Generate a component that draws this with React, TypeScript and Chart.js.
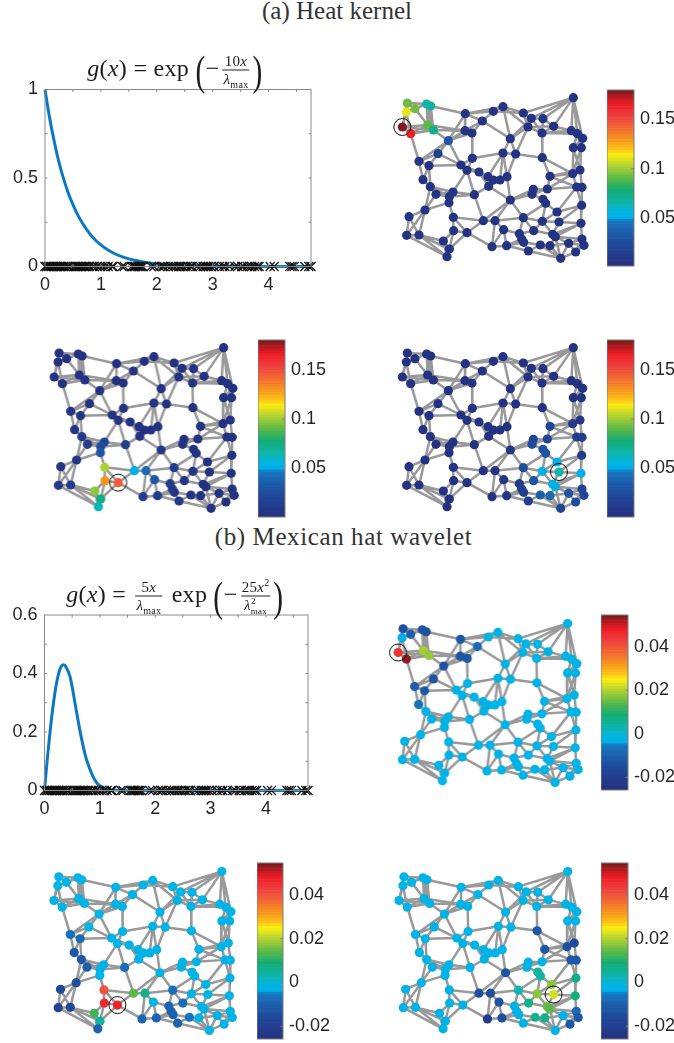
import React, { useEffect, useRef } from "react";
import { Chart, registerables } from "chart.js";

Chart.register(...registerables);

const SANS = "'Liberation Sans', Arial, sans-serif";
const SERIF = "'Liberation Serif', serif";
const MATH = "'Liberation Serif', serif";

// Graph vertices
const nodeX = [82,79,105,140,152,67,92,143,160,256,340,369,307,255,276,205,430,454,489,444,521,486,580,574,592,608,391,580,604,174,117,147,277,243,261,297,369,407,487,129,151,324,340,360,381,326,510,578,600,590,606,168,219,208,207,283,391,460,456,502,489,497,605,531,135,87,220,310,345,430,487,537,603,221,261,371,418,461,518,80,117,190,606,425,431,336,380,481,510,566,612,208,445,587,201,542,526];
const nodeY = [69,96,86,72,78,141,161,135,150,101,94,80,123,152,159,182,99,115,116,141,139,159,53,152,161,175,176,203,203,221,244,257,235,255,271,276,219,222,233,299,320,290,300,300,290,319,289,281,270,321,322,343,336,350,368,344,360,328,343,327,358,370,376,396,390,410,412,422,422,413,424,426,430,452,458,449,461,452,463,466,465,483,477,477,487,500,497,495,497,490,496,507,513,516,530,535,470];

// Graph edges (vertex index pairs)
const edgePairs = [
[0,1],[0,2],[0,3],[0,5],[1,2],[1,5],[1,6],[2,3],[2,7],[3,4],[3,7],[4,7],[4,8],[5,6],[5,7],[5,8],[6,7],[6,8],[7,8],[3,8],[4,9],[7,13],[8,13],[8,15],[6,30],
[9,10],[9,11],[10,11],[9,12],[9,13],[9,15],[10,12],[11,16],[11,26],[10,16],[12,13],[12,15],[12,26],[13,14],[13,15],[14,15],[14,32],[15,29],[15,33],[15,31],[29,30],[29,33],[29,31],[30,31],[15,30],[12,14],
[16,17],[16,19],[11,19],[17,18],[17,19],[17,21],[18,20],[18,21],[19,20],[19,21],[20,21],[20,23],[21,23],[17,22],[18,22],[16,22],[20,22],[22,23],[22,24],[22,25],[23,24],[24,25],[21,24],[19,26],[26,37],[26,36],[21,38],[19,37],[26,17],[25,28],[25,27],[24,27],[24,28],[27,28],[27,47],[27,48],[28,48],[28,47],
[36,37],[37,38],[32,36],[37,44],[36,44],[36,41],[36,43],[38,46],[38,47],[32,33],[32,34],[33,34],[33,31],[33,35],[34,35],[34,55],[34,52],[35,41],[35,42],[35,45],[41,42],[42,43],[43,44],[41,45],[42,45],[43,45],[44,56],[45,56],[55,45],[55,52],[55,53],
[30,39],[31,39],[31,40],[39,40],[40,51],[40,52],[40,53],[40,64],[51,52],[51,53],[51,64],[52,53],[53,54],[52,54],[54,64],[54,66],[64,65],[64,79],[64,80],[65,79],[65,80],[79,80],[80,81],[80,91],[80,94],[79,94],[81,91],[81,94],[91,94],[81,73],[73,91],[74,91],[73,74],[73,66],[66,67],[66,74],[74,67],[74,85],[67,68],[55,67],[68,69],[68,56],[68,75],[68,85],[56,69],[56,67],[56,58],[56,57],[57,58],[57,59],[58,59],[58,60],[59,46],[59,47],[59,49],[60,61],[61,63],[61,69],[69,70],[69,76],[69,77],[70,71],[70,61],[70,63],[71,72],[71,62],[63,62],[63,49],[62,49],[62,50],[49,50],[47,49],[47,48],[48,50],[46,47],[46,48],[46,49],[62,72],[72,82],[72,78],[71,78],[70,77],[70,78],[77,78],[77,76],[75,76],[75,85],[75,86],[76,83],[83,84],[76,84],[84,92],[83,86],[85,86],[86,92],[86,84],[92,87],[87,88],[87,84],[88,96],[78,96],[96,89],[88,95],[95,89],[95,93],[93,89],[93,90],[90,82],[89,82],[96,82],[88,89],[92,95],[87,95],[96,95],[93,82],[89,90],[72,96]
];

// Vertex values, one list per graph panel
const heatA = [.092,.11,.093,.065,.068,.178,.165,.09,.073,.004,.004,.004,.004,.004,.004,.03,.004,.004,.004,.004,.004,.004,.004,.004,.004,.004,.004,.004,.004,.015,.006,.005,.004,.004,.004,.004,.004,.004,.004,.004,.004,.004,.004,.004,.004,.004,.004,.004,.004,.004,.004,.004,.004,.004,.004,.004,.004,.004,.004,.004,.004,.004,.004,.004,.004,.004,.004,.004,.004,.004,.004,.004,.004,.004,.004,.004,.004,.004,.004,.004,.004,.004,.004,.004,.004,.004,.004,.004,.004,.004,.004,.004,.004,.004,.004,.004,.004];
const heatB = [.003,.003,.003,.003,.003,.003,.003,.003,.003,.003,.003,.003,.003,.003,.003,.003,.003,.003,.003,.003,.003,.003,.003,.003,.003,.003,.003,.003,.003,.003,.006,.005,.004,.004,.004,.003,.003,.003,.003,.006,.01,.003,.003,.003,.003,.003,.003,.003,.003,.003,.003,.012,.02,.025,.03,.012,.006,.003,.003,.003,.003,.003,.003,.003,.005,.006,.102,.052,.04,.012,.005,.003,.003,.13,.145,.03,.012,.006,.003,.01,.012,.097,.003,.006,.006,.012,.012,.004,.003,.003,.003,.075,.006,.003,.062,.003,.003];
const heatC = [.003,.003,.003,.003,.003,.003,.003,.003,.003,.003,.003,.003,.003,.003,.003,.003,.003,.003,.003,.003,.003,.003,.003,.003,.003,.003,.003,.003,.003,.003,.003,.003,.003,.003,.003,.003,.003,.003,.003,.003,.003,.003,.003,.003,.003,.003,.02,.008,.006,.012,.012,.003,.003,.003,.003,.003,.005,.02,.025,.02,.028,.03,.012,.055,.003,.003,.003,.003,.004,.025,.052,.065,.05,.003,.003,.005,.012,.03,.05,.003,.003,.003,.02,.015,.015,.004,.006,.035,.04,.03,.02,.003,.015,.025,.003,.02,.052];
const hatA = [-.014,-.004,-.011,-.013,-.014,.045,.053,.019,.018,-.012,-.002,-.002,-.008,-.013,-.012,-.013,-.002,-.002,-.002,-.002,-.002,-.002,-.002,-.002,-.002,-.002,-.002,-.002,-.002,-.013,-.011,-.012,-.002,-.003,-.002,-.002,-.002,-.002,-.002,-.006,-.003,-.002,-.002,-.002,-.002,-.002,-.002,-.002,-.002,-.002,-.002,-.002,-.002,-.002,-.002,-.002,-.002,-.002,-.002,-.002,-.002,-.002,-.002,-.002,-.002,-.002,-.002,-.002,-.002,-.002,-.002,-.002,-.002,-.002,-.002,-.002,-.002,-.002,-.002,-.002,-.002,-.002,-.002,-.002,-.002,-.002,-.002,-.002,-.002,-.002,-.002,-.002,-.002,-.002,-.002,-.002,-.002];
const hatB = [-.002,-.002,-.002,-.002,-.002,-.002,-.002,-.002,-.002,-.002,-.002,-.002,-.002,-.002,-.002,-.002,-.002,-.002,-.002,-.002,-.002,-.002,-.002,-.002,-.002,-.002,-.002,-.002,-.002,-.002,-.007,-.008,-.002,-.002,-.002,-.002,-.002,-.002,-.002,-.012,-.012,-.002,-.002,-.002,-.002,-.002,-.002,-.002,-.002,-.002,-.002,-.011,-.003,-.003,-.002,-.008,-.002,-.002,-.002,-.002,-.002,-.002,-.002,-.002,-.014,-.017,.04,.014,.006,-.007,-.002,-.002,-.002,.046,.047,-.002,-.009,-.008,-.002,-.018,-.017,.012,-.002,-.01,-.01,-.009,-.009,-.006,-.002,-.002,-.002,.004,-.01,-.002,-.01,-.002,-.002];
const hatC = [-.002,-.002,-.002,-.002,-.002,-.002,-.002,-.002,-.002,-.002,-.002,-.002,-.002,-.002,-.002,-.002,-.002,-.002,-.002,-.002,-.002,-.002,-.002,-.002,-.002,-.002,-.002,-.002,-.002,-.002,-.002,-.002,-.002,-.002,-.002,-.002,-.002,-.002,-.012,-.002,-.002,-.002,-.002,-.002,-.002,-.002,-.012,-.014,-.015,-.012,-.012,-.002,-.002,-.002,-.002,-.002,-.013,-.002,-.002,-.002,.004,.004,.007,.017,-.002,-.002,-.002,-.015,-.015,.002,.017,.022,.008,-.002,-.002,-.013,-.002,.006,.015,-.002,-.002,-.002,-.008,-.002,-.003,-.022,-.014,.006,.006,-.002,-.012,-.002,-.002,-.012,-.002,-.002,.014];

// Curve panels
const heatCurveX = [0,.05,.1,.15,.2,.25,.3,.4,.5,.6,.7,.8,.9,1,1.1,1.25,1.4,1.6,1.8,2,2.3,2.6,3,3.5,4,4.76];
const heatCurveY = [1,.9,.81,.73,.655,.59,.53,.43,.35,.283,.23,.186,.15,.122,.099,.072,.053,.035,.023,.015,.008,.004,.002,.001,0,0];
const hatCurveX = [0,.03,.06,.12,.17,.22,.28,.33,.38,.46,.55,.63,.7,.76,.87,.95,1.05,1.15,1.5,2,3,4,4.76];
const hatCurveY = [0,.065,.125,.235,.31,.37,.415,.43,.425,.39,.3,.215,.15,.105,.05,.025,.01,.003,0,0,0,0,0];
const eigenvalues = [0,.03,.06,.09,.12,.15,.18,.2,.22,.25,.28,.3,.33,.36,.4,.42,.47,.52,.55,.58,.6,.63,.65,.68,.7,.73,.77,.8,.85,.88,.93,.98,1.03,1.08,1.13,1.2,1.22,1.38,1.42,1.55,1.58,1.6,1.62,1.65,1.68,1.7,1.72,1.75,1.9,1.95,2.05,2.1,2.13,2.2,2.25,2.3,2.35,2.4,2.43,2.47,2.52,2.55,2.6,2.63,2.72,2.78,2.83,2.87,2.9,2.93,2.97,3.02,3.12,3.18,3.22,3.3,3.4,3.45,3.52,3.55,3.62,3.66,3.7,3.75,3.8,3.83,4.03,4.1,4.38,4.42,4.46,4.65,4.72,4.76];

// Ticks
const xTickLabels = [0,1,2,3,4];
const heatYTicks = [0,.5,1];
const hatYTicks = [0,.2,.4,.6];
const heatBarTicks = [.05,.1,.15];
const hatBarTicks = [-.02,0,.02,.04];

// Colour scale, bottom to top
const colorStops = [
  [0,"#25307f"],[.13,"#1f4a9b"],[.22,"#1b69b5"],[.255,"#1478c2"],[.27,"#00aee8"],[.3,"#00b4e6"],[.36,"#0fb5a8"],[.43,"#13ad74"],[.5,"#62b946"],[.57,"#b4d333"],[.63,"#fdee10"],[.66,"#fdc41a"],[.72,"#f7941e"],[.78,"#f26b35"],[.85,"#ee4040"],[.92,"#ed1c24"],[.96,"#b31b20"],[1,"#6e1a1a"]
] as [number,string][];

const hex = (c: string) => [1,3,5].map(i => parseInt(c.slice(i,i+2),16));
function colorAt(f: number) {
  const t = Math.max(0, Math.min(1, f));
  for (let i = 1; i < colorStops.length; i++) {
    const [p1,c1] = colorStops[i];
    if (t <= p1) {
      const [p0,c0] = colorStops[i-1];
      const k = (t-p0)/(p1-p0), a = hex(c0), b = hex(c1);
      return `rgb(${a.map((v,j)=>Math.round(v+(b[j]-v)*k)).join(",")})`;
    }
  }
  return colorStops[colorStops.length-1][1];
}

const frame = {
  id: "frame",
  afterDatasetsDraw(chart: any, _a: any, opts: any) {
    if (!opts.color) return;
    const { ctx, chartArea: c, scales } = chart;
    ctx.save();
    ctx.strokeStyle = opts.color;
    ctx.lineWidth = 1;
    ctx.strokeRect(c.left, c.top, c.right-c.left, c.bottom-c.top);
    const len = opts.len ?? 2.5;
    ctx.beginPath();
    (opts.xMarks || []).forEach((v: number) => {
      const p = scales.x.getPixelForValue(v);
      ctx.moveTo(p,c.top); ctx.lineTo(p,c.top+len);
      ctx.moveTo(p,c.bottom); ctx.lineTo(p,c.bottom-len);
    });
    (opts.yMarks || []).forEach((v: number) => {
      const p = scales.y.getPixelForValue(v);
      if (!opts.rightOnly) { ctx.moveTo(c.left,p); ctx.lineTo(c.left+len,p); }
      ctx.moveTo(c.right,p); ctx.lineTo(c.right-len,p);
    });
    ctx.stroke();
    ctx.restore();
  },
};

function Plot({ left, top, width, height, config }: any) {
  const ref = useRef<HTMLCanvasElement>(null);
  useEffect(() => {
    const chart = new Chart(ref.current!, config());
    return () => chart.destroy();
  }, []);
  return <canvas ref={ref} width={width} height={height}
    style={{ position: "absolute", left, top, width, height }} />;
}

const baseOptions = {
  responsive: false,
  animation: false as const,
  events: [] as string[],
};

function curveConfig(xs: number[], ys: number[], yTicks: number[], yMax: number, yMarks: number[], box: any) {
  return () => ({
    type: "scatter",
    data: {
      datasets: [
        { data: eigenvalues.map(x => ({ x, y: 0 })), pointStyle: "crossRot", pointRadius: 6.4, pointBorderColor: "#111", pointBorderWidth: 1.2, backgroundColor: "transparent", clip: false, order: 1 },
        { data: xs.map((x,i) => ({ x, y: ys[i] })), showLine: true, pointRadius: 0, borderColor: "#0b79c1", borderWidth: 3, tension: .3, clip: false, order: 2 },
      ],
    },
    options: {
      ...baseOptions,
      layout: { autoPadding: false, padding: { left: 0, right: box.right, top: box.top, bottom: 0 } },
      plugins: { legend: { display: false }, tooltip: { enabled: false }, frame: { color: "#8a8a8a", xMarks: [.5,1,1.5,2,2.5,3,3.5,4,4.5], yMarks } },
      scales: {
        x: {
          type: "linear", min: 0, max: 4.76, grid: { display: false, drawTicks: false }, border: { display: false },
          afterBuildTicks: (s: any) => { s.ticks = xTickLabels.map(value => ({ value })); },
          afterFit: (s: any) => { s.height = box.axisH; },
          ticks: { padding: 8, maxRotation: 0, color: "#262626", font: { family: SANS, size: 18 }, callback: (v: any) => String(v) },
        },
        y: {
          type: "linear", min: 0, max: yMax, grid: { display: false, drawTicks: false }, border: { display: false },
          afterBuildTicks: (s: any) => { s.ticks = yTicks.map(value => ({ value })); },
          afterFit: (s: any) => { s.width = box.axisW; },
          ticks: { padding: 7, color: "#262626", font: { family: SANS, size: 18 }, callback: (v: any) => String(v) },
        },
      },
    },
    plugins: [frame],
  });
}

function graphConfig(values: number[], vMin: number, vMax: number, source: number) {
  return () => ({
    type: "scatter",
    data: {
      datasets: [
        { data: [{ x: nodeX[source], y: nodeY[source] }], pointRadius: 8.5, pointBorderColor: "#111", pointBorderWidth: 1, backgroundColor: "transparent", order: 1 },
        { data: nodeX.map((x,i) => ({ x, y: nodeY[i] })), pointRadius: 4.6, pointBorderWidth: 0,
          pointBackgroundColor: values.map(v => colorAt((v-vMin)/(vMax-vMin))), order: 2 },
        { data: edgePairs.flatMap(([a,b]) => [{ x: nodeX[a], y: nodeY[a] }, { x: nodeX[b], y: nodeY[b] }, { x: NaN, y: NaN }]),
          showLine: true, spanGaps: false, pointRadius: 0, borderColor: "#999999", borderWidth: 2.5, order: 3 },
      ],
    },
    options: {
      ...baseOptions,
      layout: { autoPadding: false, padding: 0 },
      plugins: { legend: { display: false }, tooltip: { enabled: false } },
      scales: {
        x: { type: "linear", display: false, min: 0, max: 660 },
        y: { type: "linear", display: false, min: 0, max: 570, reverse: true },
      },
    },
  });
}

const BANDS = 64;
const bandIndex = Array.from({ length: BANDS }, (_, i) => i);

function barConfig(vMin: number, vMax: number, ticks: number[], pad: number, barW: number, canvasW: number) {
  return () => ({
    type: "bar",
    data: {
      labels: [""],
      datasets: bandIndex.map(i => ({
        data: [[vMin+(vMax-vMin)*i/BANDS, vMin+(vMax-vMin)*(i+1)/BANDS]],
        backgroundColor: colorAt((i+.5)/BANDS), borderWidth: 0, barPercentage: 1, categoryPercentage: 1, grouped: false,
      })),
    },
    options: {
      ...baseOptions,
      layout: { autoPadding: false, padding: { left: 0, right: 0, top: pad, bottom: pad } },
      plugins: { legend: { display: false }, tooltip: { enabled: false }, frame: { color: "#7d7d7d", yMarks: ticks, rightOnly: true, len: 2.5 } },
      scales: {
        x: { display: false, stacked: false },
        y: {
          type: "linear", position: "right", min: vMin, max: vMax, grid: { display: false, drawTicks: false }, border: { display: false },
          afterBuildTicks: (s: any) => { s.ticks = ticks.map(value => ({ value })); },
          afterFit: (s: any) => { s.width = canvasW-barW; },
          ticks: { padding: 6, color: "#262626", font: { family: SANS, size: 18 }, callback: (v: any) => String(v) },
        },
      },
    },
    plugins: [frame],
  });
}

const HEAT_MIN = .0008, HEAT_MAX = .18, HAT_MIN = -.0258, HAT_MAX = .0545;

const graphPanels = [
  { values: heatA, min: HEAT_MIN, max: HEAT_MAX, source: 5,  left: 380, top: 80,  sx: 1, sy: 1 },
  { values: heatB, min: HEAT_MIN, max: HEAT_MAX, source: 74, left: 32.2, top: 330, sx: .989, sy: 1 },
  { values: heatC, min: HEAT_MIN, max: HEAT_MAX, source: 71, left: 380, top: 330, sx: 1, sy: 1 },
  { values: hatA,  min: HAT_MIN,  max: HAT_MAX,  source: 5,  left: 376.2, top: 605.8, sx: .99, sy: .99 },
  { values: hatB,  min: HAT_MIN,  max: HAT_MAX,  source: 74, left: 31.7, top: 853.8, sx: .983, sy: .99 },
  { values: hatC,  min: HAT_MIN,  max: HAT_MAX,  source: 71, left: 376.7, top: 853.8, sx: .987, sy: .99 },
];
const barPanels = [
  { min: HEAT_MIN, max: HEAT_MAX, ticks: heatBarTicks, left: 607, top: 90, w: 27, h: 176 },
  { min: HEAT_MIN, max: HEAT_MAX, ticks: heatBarTicks, left: 258, top: 340, w: 27, h: 177 },
  { min: HEAT_MIN, max: HEAT_MAX, ticks: heatBarTicks, left: 607, top: 340, w: 27, h: 177 },
  { min: HAT_MIN, max: HAT_MAX, ticks: hatBarTicks, left: 601, top: 615, w: 27, h: 175 },
  { min: HAT_MIN, max: HAT_MAX, ticks: hatBarTicks, left: 257, top: 863, w: 26, h: 176 },
  { min: HAT_MIN, max: HAT_MAX, ticks: hatBarTicks, left: 601, top: 863, w: 27, h: 176 },
];

function Frac({ top, bottom, size }: any) {
  return (
    <span style={{ display: "inline-flex", flexDirection: "column", alignItems: "center", verticalAlign: "middle", fontSize: size, lineHeight: 1, margin: "0 3px" }}>
      <span style={{ padding: "0 1px 1px" }}>{top}</span>
      <span style={{ borderTop: "1px solid #222", padding: "1px 1px 0", alignSelf: "stretch", textAlign: "center" }}>{bottom}</span>
    </span>
  );
}
const I = ({ children }: any) => <i>{children}</i>;
const Big = ({ children }: any) => <span style={{ fontSize: 42, fontWeight: 200, verticalAlign: "middle", lineHeight: 1, display: "inline-block", transform: "scaleX(.7)", margin: "-6px -2px" }}>{children}</span>;
const Lmax = () => <><I>λ</I><sub style={{ fontSize: 10, lineHeight: 0 }}>max</sub></>;

function Title({ cx, cy, children }: any) {
  return (
    <div style={{ position: "absolute", left: cx, top: cy, transform: "translate(-50%,-50%)", whiteSpace: "nowrap", fontFamily: MATH, fontSize: 24, color: "#1c1c1c", lineHeight: 1, letterSpacing: .3 }}>
      {children}
    </div>
  );
}
function Caption({ top, cx, spacing, children }: any) {
  return <div style={{ position: "absolute", left: cx-337, width: 674, top, textAlign: "center", fontFamily: SERIF, fontSize: 25, color: "#333", lineHeight: "28px", whiteSpace: "nowrap", letterSpacing: spacing }}>{children}</div>;
}

export default function App() {
  return (
    <div style={{ position: "fixed", left: 0, top: 0, width: 674, height: 1043, background: "#fff", overflow: "hidden" }}>
      <Caption top={-3} cx={337} spacing={0}>(a) Heat kernel</Caption>
      <Caption top={523} cx={343.5} spacing={.6}>(b) Mexican hat wavelet</Caption>

      <Plot left={0} top={70} width={330} height={230}
        config={curveConfig(heatCurveX, heatCurveY, heatYTicks, 1, [.25,.5,.75], { right: 19, top: 19.5, axisW: 45, axisH: 33.5 })} />
      <Plot left={0} top={595} width={330} height={230}
        config={curveConfig(hatCurveX, hatCurveY, hatYTicks, .6, [.1,.2,.3,.4,.5], { right: 22, top: 20, axisW: 44.5, axisH: 34.5 })} />

      <Title cx={175} cy={70}>
        <I>g</I>(<I>x</I>) = exp <Big>(</Big>−<Frac size={15} top={<>10<I>x</I></>} bottom={<Lmax />} /><Big>)</Big>
      </Title>
      <Title cx={175} cy={596}>
        <I>g</I>(<I>x</I>) = <Frac size={15} top={<>5<I>x</I></>} bottom={<Lmax />} /> exp <Big>(</Big>−<Frac size={15} top={<>25<I>x</I><sup style={{ fontSize: 10, lineHeight: 0 }}>2</sup></>} bottom={<><I>λ</I><sup style={{ fontSize: 9, lineHeight: 0 }}>2</sup><sub style={{ fontSize: 9, lineHeight: 0, marginLeft: -5 }}>max</sub></>} /><Big>)</Big>
      </Title>

      {graphPanels.map((p, i) => (
        <Plot key={i} left={p.left} top={p.top} width={220*p.sx} height={190*p.sy} config={graphConfig(p.values, p.min, p.max, p.source)} />
      ))}
      {barPanels.map((b, i) => (
        <Plot key={"b"+i} left={b.left} top={b.top-20} width={b.w+66} height={b.h+40} config={barConfig(b.min, b.max, b.ticks, 20, b.w, b.w+66)} />
      ))}
    </div>
  );
}
